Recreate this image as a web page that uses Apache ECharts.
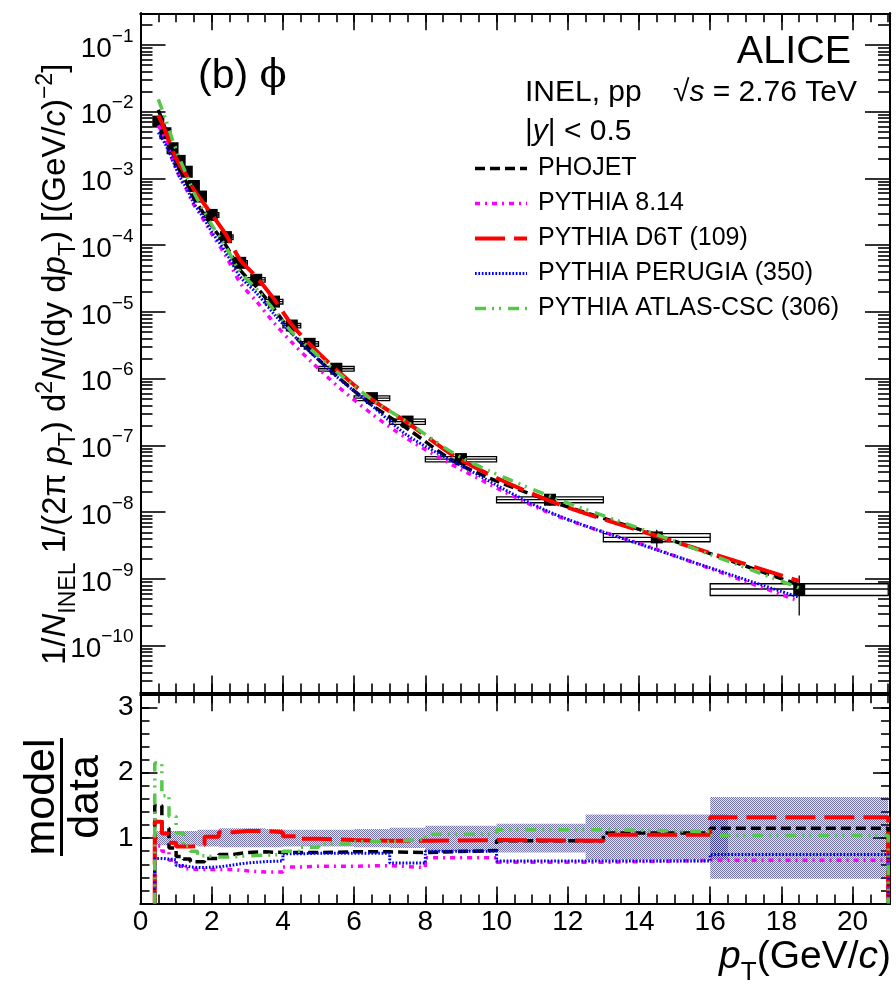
<!DOCTYPE html>
<html>
<head>
<meta charset="utf-8">
<title>phi spectrum, pp 2.76 TeV</title>
<script src="https://cdn.jsdelivr.net/npm/echarts@6/dist/echarts.min.js"></script>
<style>
  html, body { margin: 0; padding: 0; background: #ffffff; }
  #chart { width: 896px; height: 991px; }
</style>
</head>
<body>
<div id="chart"></div>
<script>
// ---- data -------------------------------------------------------------
// pT bin edges (GeV/c)
const binEdges = [0.4, 0.6, 0.8, 1.0, 1.2, 1.4, 1.6, 1.8, 2.2, 2.6, 3.0, 3.5, 4.0, 4.5, 5.0, 6, 7, 8, 10, 13, 16, 21];
// 1/N_INEL 1/(2 pi pT) d2N/(dy dpT) per bin
const phiYield = [7.08e-3, 4.75e-3, 2.83e-3, 1.83e-3, 1.26e-3, 7.7e-4, 5.35e-4, 2.84e-4, 1.32e-4, 5.44e-5,
                  3.03e-5, 1.43e-5, 6.26e-6, 3.33e-6, 1.41e-6, 5.12e-7, 2.28e-7, 6.25e-8, 1.54e-8, 4.2e-9, 7.08e-10];
// relative statistical and systematic uncertainties
const statRel = [0.02, 0.02, 0.02, 0.02, 0.02, 0.02, 0.02, 0.02, 0.02, 0.03, 0.03, 0.03, 0.04, 0.04, 0.05,
                 0.06, 0.07, 0.09, 0.19, 0.30, 0.60];
const systRel = [0.08, 0.08, 0.08, 0.08, 0.08, 0.08, 0.08, 0.08, 0.08, 0.08, 0.08, 0.08, 0.08, 0.08, 0.08,
                 0.08, 0.09, 0.09, 0.10, 0.14, 0.20];

// model / data ratios per bin
const ratioPhojet    = [1.50, 1.15, 0.85, 0.72, 0.68, 0.64, 0.64, 0.69, 0.75, 0.78, 0.79, 0.78, 0.78, 0.78, 0.79, 0.79, 0.78, 0.81, 0.96, 1.08, 1.15];
const ratioPythia814 = [0.88, 0.80, 0.66, 0.57, 0.53, 0.52, 0.52, 0.52, 0.52, 0.50, 0.48, 0.48, 0.56, 0.57, 0.57, 0.58, 0.55, 0.70, 0.63, 0.66, 0.66];
const ratioD6T       = [1.25, 1.07, 0.93, 0.87, 0.87, 0.88, 0.90, 1.02, 1.09, 1.11, 1.11, 1.09, 1.03, 0.99, 0.97, 0.96, 0.96, 0.97, 0.96, 1.05, 1.32];
const ratioPerugia   = [0.69, 0.68, 0.67, 0.58, 0.56, 0.55, 0.55, 0.56, 0.59, 0.62, 0.64, 0.65, 0.76, 0.77, 0.77, 0.77, 0.62, 0.80, 0.65, 0.65, 0.75];
const ratioAtlasCsc  = [2.15, 1.65, 1.33, 1.08, 0.88, 0.80, 0.73, 0.71, 0.71, 0.73, 0.74, 0.75, 0.80, 0.86, 0.91, 0.95, 0.98, 1.06, 1.13, 1.10, 1.04];

// total data uncertainty band in the ratio panel
const bandX0 = [0.4, 0.6, 0.8, 1.0, 1.2, 1.4, 1.6, 1.8, 2.2, 2.6, 3.0, 3.5, 4.0, 4.5, 5.0, 6, 7, 8, 10, 12.5, 16];
const bandX1 = [0.6, 0.8, 1.0, 1.2, 1.4, 1.6, 1.8, 2.2, 2.6, 3.0, 3.5, 4.0, 4.5, 5.0, 6, 7, 8, 10, 12.5, 16.5, 21];
const bandLo = [0.89, 0.89, 0.89, 0.89, 0.89, 0.89, 0.87, 0.87, 0.86, 0.86, 0.86, 0.86, 0.87, 0.87, 0.87, 0.86, 0.85, 0.80, 0.78, 0.67, 0.38];
const bandHi = [1.11, 1.11, 1.11, 1.11, 1.11, 1.11, 1.13, 1.13, 1.15, 1.15, 1.15, 1.14, 1.13, 1.13, 1.13, 1.14, 1.16, 1.19, 1.22, 1.36, 1.63];

// axis ticks and labels
const xMajorTicks = [0, 2, 4, 6, 8, 10, 12, 14, 16, 18, 20];
const yDecades = [-10, -9, -8, -7, -6, -5, -4, -3, -2, -1];
const ratioLabels = [1, 2, 3];

// ---- layout / style ---------------------------------------------------
const SANS = '"Liberation Sans", Arial, Helvetica, sans-serif';
const SERIF = '"DejaVu Serif", "Liberation Serif", serif';
const X_MAX = 21.05;
const Y_LOG_MIN = -10.70, Y_LOG_MAX = -0.527;
const R_MIN = 0, R_MAX = 3.2;
const PLOT_LEFT = 140.5, PLOT_W = 749.5;

const models = [
  { name: 'PHOJET',                 ratio: ratioPhojet,    color: '#000000', width: 3.5, dash: [10, 5] },
  { name: 'PYTHIA 8.14',            ratio: ratioPythia814, color: '#ff00ff', width: 3.5, dash: [5, 5, 2, 5] },
  { name: 'PYTHIA D6T (109)',       ratio: ratioD6T,       color: '#ff0000', width: 4,   dash: [30, 9] },
  { name: 'PYTHIA PERUGIA (350)',   ratio: ratioPerugia,   color: '#0000ff', width: 3,   dash: [1.7, 1.7] },
  { name: 'PYTHIA ATLAS-CSC (306)', ratio: ratioAtlasCsc,  color: '#55c84a', width: 3.5, dash: [11, 6, 2, 5, 2, 7] }
];

// dotted hatch used to fill the uncertainty band
function makeHatch() {
  const c = document.createElement('canvas');
  c.width = 4; c.height = 4;
  const g = c.getContext('2d');
  g.fillStyle = 'rgba(30, 30, 110, 0.62)';
  for (let y = 0; y < 4; y++) {
    for (let x = 0; x < 4; x++) {
      if ((x + y) % 2 === 0) g.fillRect(x, y, 1, 1);
    }
  }
  g.fillStyle = 'rgba(30, 30, 110, 0.12)';
  for (let y = 0; y < 4; y++) {
    for (let x = 0; x < 4; x++) {
      if ((x + y) % 2 === 1) g.fillRect(x, y, 1, 1);
    }
  }
  return { image: c, repeat: 'repeat' };
}
const hatchFill = makeHatch();

// ---- derived tick lists ----------------------------------------------
const xMinorTicks = [];
for (let v = 0; v <= 21; v += 0.5) xMinorTicks.push(v);
const yMinorTicks = [];
for (let d = -11; d <= -1; d++) {
  for (let k = 2; k <= 9; k++) {
    const v = d + Math.log10(k);
    if (v >= Y_LOG_MIN && v <= Y_LOG_MAX) yMinorTicks.push(v);
  }
}
const rMinorTicks = [];
for (let i = 1; i <= 16; i++) rMinorTicks.push(+(i * 0.2).toFixed(1));

// ---- axes -------------------------------------------------------------
function xAxisDef(grid, pos, ticks, len, withLabels) {
  return {
    type: 'value', gridIndex: grid, position: pos, min: 0, max: X_MAX,
    axisLine: { show: true, onZero: false, lineStyle: { color: '#000', width: 2 } },
    axisTick: { show: true, inside: true, length: len, customValues: ticks, lineStyle: { color: '#000', width: 1.6 } },
    axisLabel: withLabels
      ? { show: true, customValues: xMajorTicks, fontSize: 28, fontFamily: SANS, color: '#000', margin: 5 }
      : { show: false },
    splitLine: { show: false }, minorTick: { show: false }
  };
}
function yAxisDef(grid, pos, min, max, ticks, len, label) {
  return {
    type: 'value', gridIndex: grid, position: pos, min: min, max: max,
    axisLine: { show: true, onZero: false, lineStyle: { color: '#000', width: 2 } },
    axisTick: { show: true, inside: true, length: len, customValues: ticks, lineStyle: { color: '#000', width: 1.6 } },
    axisLabel: label || { show: false },
    splitLine: { show: false }, minorTick: { show: false }
  };
}
const decadeLabel = {
  show: true, customValues: yDecades, margin: 7, color: '#000',
  formatter: v => '{b|10}{s|\u2212' + Math.abs(Math.round(v)) + '}',
  rich: {
    b: { fontSize: 28, fontFamily: SANS, color: '#000', lineHeight: 36, verticalAlign: 'bottom' },
    s: { fontSize: 19, fontFamily: SANS, color: '#000', lineHeight: 19, verticalAlign: 'top' }
  }
};
const ratioLabel = { show: true, customValues: ratioLabels, margin: 7, color: '#000', fontSize: 28, fontFamily: SANS };

const xAxes = [
  xAxisDef(0, 'bottom', xMajorTicks, 17, false),
  xAxisDef(0, 'bottom', xMinorTicks, 9, false),
  xAxisDef(0, 'top', xMajorTicks, 17, false),
  xAxisDef(0, 'top', xMinorTicks, 9, false),
  xAxisDef(1, 'bottom', xMajorTicks, 17, true),
  xAxisDef(1, 'bottom', xMinorTicks, 9, false),
  xAxisDef(1, 'top', xMajorTicks, 17, false),
  xAxisDef(1, 'top', xMinorTicks, 9, false)
];
const yAxes = [
  yAxisDef(0, 'left', Y_LOG_MIN, Y_LOG_MAX, yDecades, 25, decadeLabel),
  yAxisDef(0, 'left', Y_LOG_MIN, Y_LOG_MAX, yMinorTicks, 12),
  yAxisDef(0, 'right', Y_LOG_MIN, Y_LOG_MAX, yDecades, 25),
  yAxisDef(0, 'right', Y_LOG_MIN, Y_LOG_MAX, yMinorTicks, 12),
  yAxisDef(1, 'left', R_MIN, R_MAX, ratioLabels, 17, ratioLabel),
  yAxisDef(1, 'left', R_MIN, R_MAX, rMinorTicks, 9),
  yAxisDef(1, 'right', R_MIN, R_MAX, ratioLabels, 17),
  yAxisDef(1, 'right', R_MIN, R_MAX, rMinorTicks, 9)
];

// ---- series -----------------------------------------------------------
const lg = Math.log10;
const nBins = phiYield.length;
const centers = phiYield.map((_, i) => (binEdges[i] + binEdges[i + 1]) / 2);

const boxData = phiYield.map((v, i) => [
  binEdges[i], binEdges[i + 1],
  lg(v * (1 - systRel[i])), lg(v * (1 + systRel[i])),
  lg(v),
  lg(v * (1 - statRel[i])), lg(v * (1 + statRel[i])),
  centers[i]
]);

const series = [];

// systematic boxes with bin-width bars and statistical error bars
series.push({
  type: 'custom', name: 'data-unc', xAxisIndex: 0, yAxisIndex: 0, z: 2, clip: true,
  data: boxData,
  renderItem: (params, api) => {
    const a = api.coord([api.value(0), api.value(3)]);
    const b = api.coord([api.value(1), api.value(2)]);
    const c = api.coord([api.value(0), api.value(4)]);
    const d = api.coord([api.value(1), api.value(4)]);
    const s0 = api.coord([api.value(7), api.value(5)]);
    const s1 = api.coord([api.value(7), api.value(6)]);
    return {
      type: 'group',
      children: [
        { type: 'rect', shape: { x: a[0], y: a[1], width: b[0] - a[0], height: b[1] - a[1] },
          style: { fill: '#ffffff', stroke: '#000', lineWidth: 1.3 } },
        { type: 'line', shape: { x1: c[0], y1: c[1], x2: d[0], y2: d[1] },
          style: { stroke: '#000', lineWidth: 1.3 } },
        { type: 'line', shape: { x1: s0[0], y1: s0[1], x2: s1[0], y2: s1[1] },
          style: { stroke: '#000', lineWidth: 1.3 } }
      ]
    };
  }
});

// data markers
series.push({
  type: 'scatter', name: 'data', xAxisIndex: 0, yAxisIndex: 0, z: 3,
  symbol: 'rect', symbolSize: 12, itemStyle: { color: '#000', opacity: 1 },
  data: phiYield.map((v, i) => [centers[i], lg(v)])
});

// model curves in the spectrum panel
models.forEach(m => {
  series.push({
    type: 'line', name: m.name, xAxisIndex: 0, yAxisIndex: 0, z: 4,
    smooth: 0.3, symbol: 'none', showSymbol: false,
    lineStyle: { color: m.color, width: m.width, type: m.dash },
    itemStyle: { color: m.color },
    data: phiYield.map((v, i) => [centers[i], lg(v * m.ratio[i])])
  });
});

// uncertainty band in the ratio panel
series.push({
  type: 'custom', name: 'band', xAxisIndex: 4, yAxisIndex: 4, z: 1, clip: true,
  data: bandX0.map((x, i) => [x, bandX1[i], bandLo[i], bandHi[i]]),
  renderItem: (params, api) => {
    const a = api.coord([api.value(0), api.value(3)]);
    const b = api.coord([api.value(1), api.value(2)]);
    return { type: 'rect', shape: { x: a[0], y: a[1], width: b[0] - a[0], height: b[1] - a[1] },
             style: { fill: hatchFill } };
  }
});

// model / data histograms
models.forEach(m => {
  const pts = [[binEdges[0], 0]];
  m.ratio.forEach((r, i) => pts.push([binEdges[i], r]));
  pts.push([binEdges[nBins], m.ratio[nBins - 1]]);
  pts.push([binEdges[nBins], 0]);
  series.push({
    type: 'line', name: m.name, xAxisIndex: 4, yAxisIndex: 4, z: 4,
    step: 'end', symbol: 'none', showSymbol: false,
    lineStyle: { color: m.color, width: m.width, type: m.dash },
    itemStyle: { color: m.color },
    data: pts
  });
});

// ---- text helpers -----------------------------------------------------
const measCtx = document.createElement('canvas').getContext('2d');
function segFont(s) {
  return (s.italic ? 'italic ' : '') + s.size + 'px ' + (s.family || SANS);
}
function segWidth(s) { measCtx.font = segFont(s); return measCtx.measureText(s.text).width; }
// lay out a run of text pieces along a common baseline (dy shifts sub/superscripts)
function textRun(segs, x, y, opt) {
  opt = opt || {};
  const widths = segs.map(segWidth);
  const total = widths.reduce((p, w, i) => p + w + (segs[i].dx || 0), 0);
  let cx = opt.align === 'right' ? -total : opt.align === 'center' ? -total / 2 : 0;
  const children = segs.map((s, i) => {
    cx += (s.dx || 0);
    const el = {
      type: 'text', x: cx, y: (s.dy || 0) - 0.33 * s.size,
      style: { text: s.text, font: segFont(s), fill: '#000',
               align: 'left', verticalAlign: 'middle', textAlign: 'left', textVerticalAlign: 'middle' }
    };
    cx += widths[i];
    return el;
  });
  return { type: 'group', x: x, y: y, rotation: opt.rotation || 0, silent: true, children: children };
}

const TF = 33, TS = 23;
const yTitle = textRun([
  { text: '1/', size: TF }, { text: 'N', size: TF, italic: true },
  { text: 'INEL', size: TS, dy: 9 },
  { text: ' 1/(2\u03c0 ', size: TF }, { text: 'p', size: TF, italic: true },
  { text: 'T', size: TS, dy: 9 },
  { text: ') d', size: TF }, { text: '2', size: TS, dy: -14 },
  { text: 'N', size: TF, italic: true }, { text: '/(dy d', size: TF },
  { text: 'p', size: TF, italic: true }, { text: 'T', size: TS, dy: 9 },
  { text: ') [(GeV/', size: TF }, { text: 'c', size: TF, italic: true },
  { text: ')', size: TF }, { text: '\u22122', size: TS, dy: -14 }, { text: ']', size: TF }
], 67, 665, { rotation: Math.PI / 2 });

const graphics = [
  textRun([{ text: '(b) ', size: 41 }, { text: '\u03d5', size: 40, family: SERIF }], 198, 90),
  textRun([{ text: 'ALICE', size: 39.5 }], 851, 65, { align: 'right' }),
  textRun([{ text: 'INEL, pp', size: 30 }], 525, 103),
  textRun([{ text: '\u221a', size: 30 }, { text: 's', size: 30, italic: true }, { text: ' = 2.76 TeV', size: 30 }],
          857, 103, { align: 'right' }),
  textRun([{ text: '|', size: 30 }, { text: 'y', size: 30, italic: true }, { text: '| < 0.5', size: 30 }], 525, 141.7),
  yTitle,
  textRun([{ text: 'model', size: 43 }], 56, 797, { rotation: Math.PI / 2, align: 'center' }),
  textRun([{ text: 'data', size: 43 }], 100, 797, { rotation: Math.PI / 2, align: 'center' }),
  { type: 'rect', silent: true, shape: { x: 60, y: 738, width: 3, height: 118 }, style: { fill: '#000' } },
  textRun([{ text: 'p', size: 39, italic: true }, { text: 'T', size: 26, dy: 11 },
           { text: '(GeV/', size: 39 }, { text: 'c', size: 39, italic: true }, { text: ')', size: 39 }],
          891, 970, { align: 'right' })
];

// ---- chart ------------------------------------------------------------
const chart = echarts.init(document.getElementById('chart'), null, { renderer: 'canvas' });
chart.setOption({
  animation: false,
  backgroundColor: '#ffffff',
  grid: [
    { left: PLOT_LEFT, top: 13.3, width: PLOT_W, height: 679.2 },
    { left: PLOT_LEFT, top: 694.3, width: PLOT_W, height: 209.2 }
  ],
  xAxis: xAxes,
  yAxis: yAxes,
  legend: {
    data: models.map(m => ({ name: m.name, lineStyle: { width: m.width } })),
    orient: 'vertical', left: 473, top: 156, padding: 0,
    itemWidth: 52, itemHeight: 14, itemGap: 10, selectedMode: false,
    itemStyle: { opacity: 0 },
    textStyle: { fontSize: 25, fontFamily: SANS, color: '#000', padding: [0, 0, 0, 6] }
  },
  series: series,
  graphic: graphics
});
</script>
</body>
</html>
